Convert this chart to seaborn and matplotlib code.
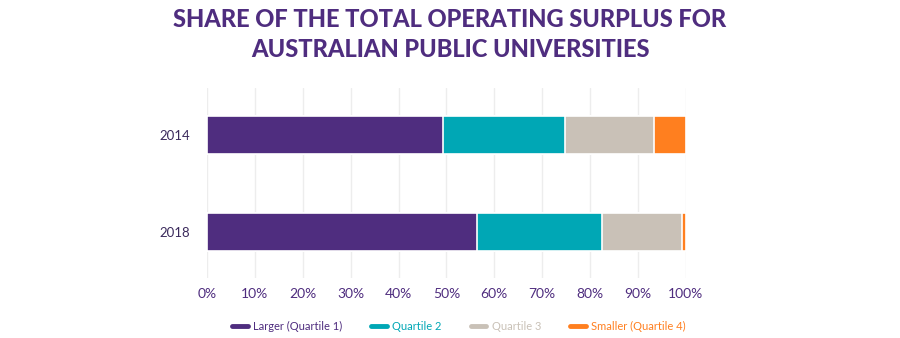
import matplotlib
matplotlib.use("Agg")
import matplotlib.pyplot as plt
from matplotlib.lines import Line2D
from matplotlib.ticker import PercentFormatter
import seaborn as sns
import pandas as pd
import numpy as np

years = ["2014", "2018"]
series = ["Larger (Quartile 1)", "Quartile 2", "Quartile 3", "Smaller (Quartile 4)"]
q1 = [49.2, 56.3]
q2 = [25.5, 26.3]
q3 = [18.6, 16.7]
q4 = [6.7, 0.7]
colors = ["#4F2D7F", "#00A7B5", "#C9C1B7", "#FF7F1F"]
title = "SHARE OF THE TOTAL OPERATING SURPLUS FOR\nAUSTRALIAN PUBLIC UNIVERSITIES"

sns.set_theme(style="white")
plt.rcParams["font.family"] = ["Lato", "DejaVu Sans"]

vals = np.array([q1, q2, q3, q4])
cum = vals.cumsum(axis=0)

fig = plt.figure(figsize=(9, 3.38), dpi=100)
ax = fig.add_axes([0.23, 0.1775, 0.532, 0.562])

for i in range(len(series) - 1, -1, -1):
    d = pd.DataFrame({"year": years, "value": cum[i]})
    sns.barplot(data=d, x="value", y="year", orient="h", color=colors[i],
                width=0.39, edgecolor="white", linewidth=1.2, ax=ax,
                saturation=1, zorder=2)

ax.set_xlim(0, 100)
ax.set_ylim(1.475, -0.485)
ax.set_xticks(np.arange(0, 101, 10))
ax.xaxis.set_major_formatter(PercentFormatter(decimals=0))
ax.grid(axis="x", color="#EDEDED", linewidth=1, zorder=0)
ax.set_axisbelow(True)
for s in ax.spines.values():
    s.set_visible(False)
ax.set_xlabel("")
ax.set_ylabel("")
ax.tick_params(axis="x", colors="#4F2D7F", labelsize=10, length=0, pad=7)
ax.tick_params(axis="y", colors="#3B2A5C", labelsize=9.5, length=0, pad=12)

fig.suptitle(title, x=0.5, y=0.975, fontsize=17, fontweight="black",
             color="#4F2D7F", linespacing=1.35)

handles = [Line2D([0], [0], color=c, lw=3.5) for c in colors]
leg = fig.legend(handles, series, loc="center", bbox_to_anchor=(0.51, 0.035),
                 ncol=4, frameon=False, fontsize=8, handlelength=1.4,
                 handletextpad=0.5, columnspacing=2.6)
for t, c in zip(leg.get_texts(), colors):
    t.set_color(c)

fig.savefig("out.png", dpi=100)
